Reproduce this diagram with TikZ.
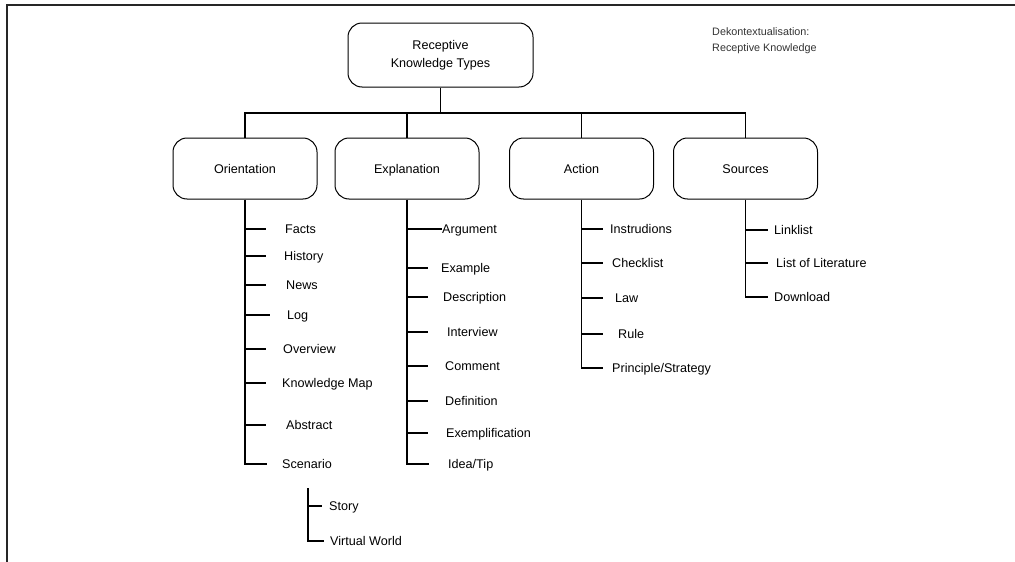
\documentclass[tikz,border=0pt]{standalone}
\usepackage{fontspec}
\setmainfont{Liberation Sans}
\begin{document}
\begin{tikzpicture}[x=1pt,y=-1pt,
  every node/.style={font=\fontsize{12.6}{18}\selectfont},
  kbox/.style={draw, line width=1pt, rounded corners=14pt, inner sep=0pt,
               minimum width=144pt, minimum height=61pt, text height=9pt, text depth=0pt},
  rootbox/.style={draw, line width=1pt, rounded corners=14pt, inner sep=0pt,
               minimum width=185pt, minimum height=64pt, align=center},
  leaf/.style={anchor=west, inner sep=0pt, text height=9pt, text depth=0pt},
  conn/.style={line width=1.4pt},
  frame/.style={line width=1.6pt, black!85}]
\useasboundingbox (0,0) rectangle (1015,562);

% frame
\draw[frame] (7,562) -- (7,5) -- (1015,5);

% note
\node[anchor=west, inner sep=0pt, align=left, text=black!80,
      font=\fontsize{10.8}{16}\selectfont] (note) at (712,41)
  {Dekontextualisation:\\Receptive Knowledge};

% root and categories
\node[rootbox] (root) at (440.5,55) {Receptive\\Knowledge Types};
\node[kbox] (orient) at (245,168.5) {Orientation};
\node[kbox] (expl)   at (407,168.5) {Explanation};
\node[kbox] (act)    at (581.5,168.5) {Action};
\node[kbox] (src)    at (745.5,168.5) {Sources};

\coordinate (bus) at (0,113);
\draw[conn] (root.south) -- (root.south |- bus);
\draw[conn] (orient.north) |- (src.north |- bus) -- (src.north);
\draw[conn] (expl.north |- bus) -- (expl.north);
\draw[conn] (act.north |- bus) -- (act.north);

% Orientation
\node[leaf] (o1) at (285,229) {Facts};
\node[leaf] (o2) at (284,256) {History};
\node[leaf] (o3) at (286,285) {News};
\node[leaf] (o4) at (287,315) {Log};
\node[leaf] (o5) at (283,349) {Overview};
\node[leaf] (o6) at (282,383) {Knowledge Map};
\node[leaf] (o7) at (286,425) {Abstract};
\node[leaf] (o8) at (282,464) {Scenario};
\coordinate (o8t) at (267,464);
\draw[conn] (orient.south) |- (o8t);
\foreach \n in {o1,o2,o3,o5,o6,o7}
  \draw[conn] (orient.south |- \n) -- ++(21,0);
\draw[conn] (orient.south |- o4) -- ++(25,0);

% Scenario details
\node[leaf] (s1) at (329,506) {Story};
\node[leaf] (s2) at (330,541) {Virtual World};
\coordinate (stop) at (308,488);
\coordinate (s2t) at (324,541);
\draw[conn] (stop) |- (s2t);
\draw[conn] (stop |- s1) -- ++(14,0);

% Explanation
\node[leaf] (e1) at (442,229) {Argument};
\node[leaf] (e2) at (441,268) {Example};
\node[leaf] (e3) at (443,297) {Description};
\node[leaf] (e4) at (447,332) {Interview};
\node[leaf] (e5) at (445,366) {Comment};
\node[leaf] (e6) at (445,401) {Definition};
\node[leaf] (e7) at (446,433) {Exemplification};
\node[leaf] (e8) at (448,464) {Idea/Tip};
\coordinate (e8t) at (429,464);
\draw[conn] (expl.south) |- (e8t);
\draw[conn] (expl.south |- e1) -- (e1.west);
\foreach \n in {e2,e3,e4,e5,e6,e7}
  \draw[conn] (expl.south |- \n) -- ++(21,0);

% Action
\node[leaf] (a1) at (610,229) {Instrudions};
\node[leaf] (a2) at (612,263) {Checklist};
\node[leaf] (a3) at (615,298) {Law};
\node[leaf] (a4) at (618,334) {Rule};
\node[leaf] (a5) at (612,368) {Principle/Strategy};
\coordinate (a5t) at (603,368);
\draw[conn] (act.south) |- (a5t);
\foreach \n in {a1,a2,a3,a4}
  \draw[conn] (act.south |- \n) -- ++(21,0);

% Sources
\node[leaf] (r1) at (774,230) {Linklist};
\node[leaf] (r2) at (776,263) {List of Literature};
\node[leaf] (r3) at (774,297) {Download};
\coordinate (r3t) at (768,297);
\draw[conn] (src.south) |- (r3t);
\foreach \n in {r1,r2}
  \draw[conn] (src.south |- \n) -- ++(22,0);
\end{tikzpicture}
\end{document}
